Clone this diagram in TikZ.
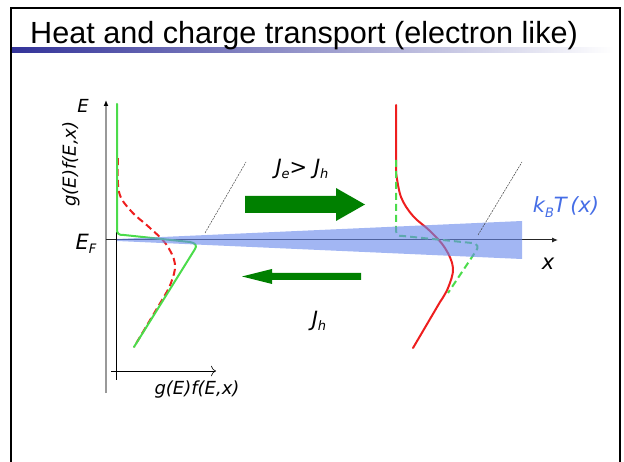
\documentclass[tikz,border=0pt]{standalone}
\usepackage{fontspec}
\setmainfont{Liberation Sans}
\newfontfamily\lblfont{DejaVu Sans}
\usetikzlibrary{arrows.meta}
\definecolor{slidenavy}{RGB}{51,51,153}
\definecolor{occgreen}{RGB}{75,220,75}
\definecolor{occred}{RGB}{238,30,30}
\definecolor{flowgreen}{RGB}{0,128,0}
\definecolor{kTblue}{RGB}{105,137,236}
\definecolor{kTtext}{RGB}{70,110,230}
\newcommand\lowsub[1]{\raisebox{-0.4ex}{\fontsize{13}{13}\selectfont #1}}
\tikzset{
    titletext/.style={font=\fontsize{30.6}{32}\selectfont, inner sep=0pt},
    lbl/.style={font=\lblfont\itshape\fontsize{18}{20}\selectfont, inner sep=0pt},
    biglbl/.style={font=\lblfont\itshape\fontsize{21}{23}\selectfont, inner sep=0pt},
    grayaxis/.style={draw=black!40, line width=2pt, -{Latex[length=6pt, width=5pt, black]}},
    xaxis/.style={draw=black!85, line width=1pt, -{Latex[length=6pt, width=5pt]}},
    occline/.style={line width=2pt, line join=round, line cap=round},
    occdash/.style={occline, dash pattern=on 7pt off 4pt, line cap=butt},
    guide/.style={draw=black!75, line width=0.5pt, dash pattern=on 2pt off 1pt},
    flow/.style={fill=flowgreen, draw=none},
}

\begin{document}
\begin{tikzpicture}[x=1pt, y=-1pt]
    \useasboundingbox (0,0) rectangle (624,462);
    % slide frame and title bar
    \draw[line width=2pt] (11,462) -- (11,8) -- (620,8) -- (620,462);
    \shade[left color=slidenavy, right color=white] (12,48) rectangle (614,53);
    \node[titletext, anchor=base west] (title) at (30,44) {Heat and charge transport (electron like)};

    % axes
    \coordinate (yfoot) at (106,393);
    \coordinate (ytop) at (106,100);
    \draw[grayaxis] (yfoot) -- (ytop);
    \coordinate (xstart) at (106,240);
    \coordinate (xend) at (558,240);
    \draw[xaxis] (xstart) -- (xend);
    \coordinate (gfup) at (116,232);
    \coordinate (gfdown) at (116,380);
    \draw[black, line width=0.8pt] (gfup) -- (gfdown);
    \coordinate (gfleft) at (111,371);
    \coordinate (gfright) at (216,371);
    \draw[black, line width=0.6pt, -{To[length=5pt]}] (gfleft) -- (gfright);

    % left side: distribution
    \draw[occred, occdash] plot[smooth, tension=0.6] coordinates {
        (118,158) (119,192) (131,211) (150,228) (166,244)
        (175,264) (171,283) (165,295)
    } -- (134,347);
    \draw[occgreen, occline] (117,104) -- (117,228)
        .. controls (117,234) and (118,235) .. (124,235) -- (190,242)
        .. controls (196,243) and (197,246) .. (195,249) -- (134,347);

    % right side: distribution
    \draw[occred, occline] (396,105) -- (396,172)
        plot[smooth, tension=0.6] coordinates {
        (396,172) (401,197) (413,216) (430,231) (445,248)
        (453,268) (448,288) (440,302)
    } -- (413,348);
    \draw[occgreen, occdash] (396,160) -- (396,230)
        .. controls (396,235) and (398,236) .. (403,236) -- (472,243)
        .. controls (478,244) and (479,247) .. (476,251) -- (448,293);

    % thermal broadening wedge
    \fill[kTblue, fill opacity=0.62] (117,239) -- (522,221) -- (522,259) -- (117,241) -- cycle;
    \draw[guide] (205,233) -- (246,162);
    \draw[guide] (478,235) -- (522,162);

    % currents
    \fill[flow] (245,196) -- (336,196) -- (336,188) -- (365,204.5)
        -- (336,221) -- (336,213) -- (245,213) -- cycle;
    \fill[flow] (361,273) -- (272,273) -- (272,269) -- (242,276.5)
        -- (272,284) -- (272,280) -- (361,280) -- cycle;

    % labels
    \node[lbl] (Elbl) at (83,106) {E};
    \node[lbl, rotate=90] (gfside) at (71,164) {g(E)f(E,x)};
    \node[biglbl] (EFlbl) at (86,244) {E\lowsub{F}};
    \node[lbl] (gfbottom) at (197,390) {g(E)f(E,x)};
    \node[biglbl] (JeJh) at (302,169) {J\lowsub{e}> J\lowsub{h}};
    \node[biglbl] (Jh) at (319,321) {J\lowsub{h}};
    \node[biglbl, text=kTtext] (kT) at (566,207) {k\lowsub{B}T\,(x)};
    \node[biglbl] (xlbl) at (548,264) {x};
\end{tikzpicture}
\end{document}
